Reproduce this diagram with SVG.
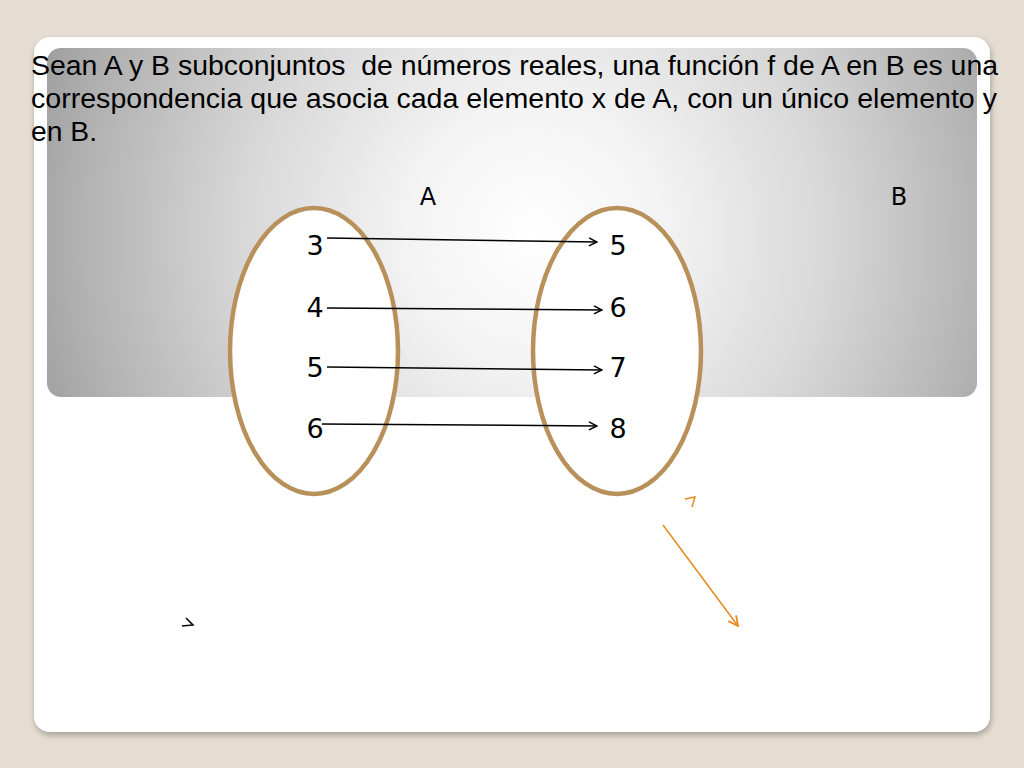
<svg xmlns="http://www.w3.org/2000/svg" width="1024" height="768" viewBox="0 0 1024 768">
  <defs>
    <radialGradient id="panelGrad" gradientUnits="userSpaceOnUse" cx="535" cy="235" r="520">
      <stop offset="0" stop-color="#ffffff"/>
      <stop offset="0.25" stop-color="#f3f3f3"/>
      <stop offset="0.55" stop-color="#d9d9d9"/>
      <stop offset="0.85" stop-color="#b5b5b5"/>
      <stop offset="1" stop-color="#a0a0a0"/>
    </radialGradient>
    <filter id="shadow" x="-5%" y="-5%" width="110%" height="110%">
      <feGaussianBlur in="SourceAlpha" stdDeviation="3"/>
      <feOffset dx="1" dy="3" result="b"/>
      <feComponentTransfer><feFuncA type="linear" slope="0.3"/></feComponentTransfer>
      <feMerge><feMergeNode/><feMergeNode in="SourceGraphic"/></feMerge>
    </filter>
    <marker id="arrBlack" viewBox="0 0 10 10" refX="9" refY="5" markerWidth="10" markerHeight="10" markerUnits="userSpaceOnUse" orient="auto">
      <path d="M1,1 L9,5 L1,9" fill="none" stroke="#000" stroke-width="1.5"/>
    </marker>
    <marker id="arrOrange" viewBox="0 0 10 10" refX="9" refY="5" markerWidth="12" markerHeight="12" markerUnits="userSpaceOnUse" orient="auto">
      <path d="M1,1 L9,5 L1,9" fill="none" stroke="#E8891E" stroke-width="1.5"/>
    </marker>
  </defs>
  <style>
    .title { font-family: "Liberation Sans", Arial, sans-serif; font-size: 27px; fill: #000; white-space: pre; }
    .lbl { font-family: "DejaVu Sans", Verdana, sans-serif; font-size: 24px; fill: #000; text-anchor: middle; }
    .num { font-family: "DejaVu Sans", Verdana, sans-serif; font-size: 27px; fill: #000; text-anchor: middle; }
    .set { fill: #ffffff; stroke: #B8915A; stroke-width: 4.5; }
    .conn { fill: none; stroke: #000; stroke-width: 1.5; marker-end: url(#arrBlack); }
    .orange { fill: none; stroke: #E8891E; stroke-width: 1.5; }
  </style>

  <rect x="0" y="0" width="1024" height="768" fill="#E5DDD1"/>
  <rect x="34" y="37" width="956" height="695" rx="16" fill="#ffffff" filter="url(#shadow)"/>
  <rect x="47" y="48" width="930" height="349" rx="14" fill="url(#panelGrad)"/>

  <g id="title">
    <text class="title" xml:space="preserve" x="31" y="75" textLength="967" lengthAdjust="spacingAndGlyphs">Sean A y B subconjuntos  de números reales, una función f de A en B es una</text>
    <text class="title" x="31" y="108" textLength="966" lengthAdjust="spacingAndGlyphs">correspondencia que asocia cada elemento x de A, con un único elemento y</text>
    <text class="title" x="31" y="141" textLength="66" lengthAdjust="spacingAndGlyphs">en B.</text>
  </g>

  <g id="setA">
    <ellipse class="set" cx="314" cy="351" rx="84" ry="143"/>
    <text class="lbl" x="428" y="205">A</text>
    <text class="num" x="315" y="255">3</text>
    <text class="num" x="315" y="317">4</text>
    <text class="num" x="315" y="377">5</text>
    <text class="num" x="315" y="438">6</text>
  </g>

  <g id="setB">
    <ellipse class="set" cx="617" cy="351" rx="84" ry="143"/>
    <text class="lbl" x="899" y="205">B</text>
    <text class="num" x="618" y="255">5</text>
    <text class="num" x="618" y="317">6</text>
    <text class="num" x="618" y="377">7</text>
    <text class="num" x="618" y="438">8</text>
  </g>

  <g id="connectors">
    <line class="conn" x1="327" y1="238" x2="597" y2="242"/>
    <line class="conn" x1="327" y1="308" x2="602" y2="310"/>
    <line class="conn" x1="327" y1="367" x2="602" y2="370"/>
    <line class="conn" x1="322" y1="424" x2="597" y2="426"/>
    <line class="orange" x1="663" y1="525" x2="738" y2="626" marker-end="url(#arrOrange)"/>
  </g>

  <g id="marks">
    <polyline class="orange" points="685,499 695,497 692,507"/>
    <polyline fill="none" stroke="#000" stroke-width="1.5" points="186,618 193,625 182,626"/>
  </g>
</svg>
